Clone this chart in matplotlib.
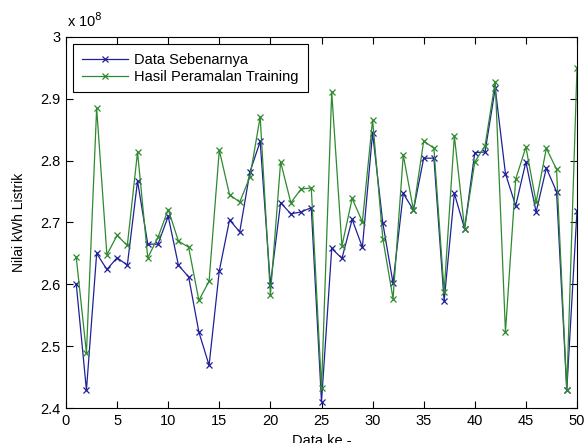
#Recreate the training forecast vs actual chart

import numpy as np
import matplotlib.pyplot as plt
from matplotlib.ticker import FixedLocator, FuncFormatter

plt.rcParams['font.family'] = ['Liberation Sans', 'DejaVu Sans']

#data in units of 1e8 kWh
data_ke = list(range(1, 51))
data_sebenarnya = [2.601, 2.429, 2.650, 2.624, 2.643, 2.631, 2.767, 2.665, 2.665, 2.710,
                   2.631, 2.612, 2.523, 2.469, 2.622, 2.704, 2.685, 2.782, 2.831, 2.599,
                   2.732, 2.714, 2.717, 2.724, 2.410, 2.658, 2.642, 2.705, 2.660, 2.845,
                   2.699, 2.602, 2.747, 2.720, 2.804, 2.804, 2.573, 2.747, 2.690, 2.813,
                   2.814, 2.917, 2.779, 2.727, 2.798, 2.717, 2.788, 2.750, 2.429, 2.719]
hasil_peramalan = [2.644, 2.489, 2.885, 2.648, 2.679, 2.663, 2.814, 2.643, 2.676, 2.721,
                   2.670, 2.660, 2.574, 2.605, 2.817, 2.745, 2.733, 2.774, 2.871, 2.583,
                   2.798, 2.732, 2.754, 2.756, 2.432, 2.911, 2.662, 2.739, 2.701, 2.866,
                   2.674, 2.577, 2.809, 2.720, 2.832, 2.820, 2.588, 2.840, 2.690, 2.798,
                   2.824, 2.928, 2.523, 2.770, 2.822, 2.733, 2.820, 2.786, 2.429, 2.950]
xticks = [0, 5, 10, 15, 20, 25, 30, 35, 40, 45, 50]
yticks = [2.4, 2.5, 2.6, 2.7, 2.8, 2.9, 3.0]

fig = plt.figure(figsize=(5.87, 4.43), dpi=100)
ax = fig.add_axes([66/587, 1-408/443, 511/587, 371/443])

ax.plot(data_ke, data_sebenarnya, color='#20209a', lw=0.9, marker='x', ms=5, mew=0.9,
        label='Data Sebenarnya')
ax.plot(data_ke, hasil_peramalan, color='#2e8a2e', lw=0.9, marker='x', ms=5, mew=0.9,
        label='Hasil Peramalan Training')

ax.set_xlim(0, 50)
ax.set_ylim(2.4, 3.0)
ax.xaxis.set_major_locator(FixedLocator(xticks))
ax.yaxis.set_major_locator(FixedLocator(yticks))
ax.yaxis.set_major_formatter(FuncFormatter(lambda v, p: '%g' % round(v, 2)))
ax.tick_params(direction='in', top=True, right=True, length=5, width=0.8,
               labelsize=10.5, pad=4)
for s in ax.spines.values():
    s.set_linewidth(0.8)

ax.text(0.002, 1.019, r'x 10$^8$', transform=ax.transAxes, fontsize=10.5,
        ha='left', va='bottom')

ax.set_xlabel('Data ke -', fontsize=10.5)
ax.xaxis.set_label_coords(0.5, -0.071)
ax.set_ylabel('Nilai kWh Listrik', fontsize=10)
ax.yaxis.set_label_coords(-0.078, 0.5)

leg = ax.legend(loc='upper left', bbox_to_anchor=(0.0137, 0.981), borderaxespad=0,
                fontsize=10.5, handlelength=3.2, handletextpad=0.4, labelspacing=0.2,
                borderpad=0.6, fancybox=False, framealpha=1, edgecolor='black')
leg.get_frame().set_linewidth(0.8)

fig.savefig('out.png', dpi=100)
plt.close()
